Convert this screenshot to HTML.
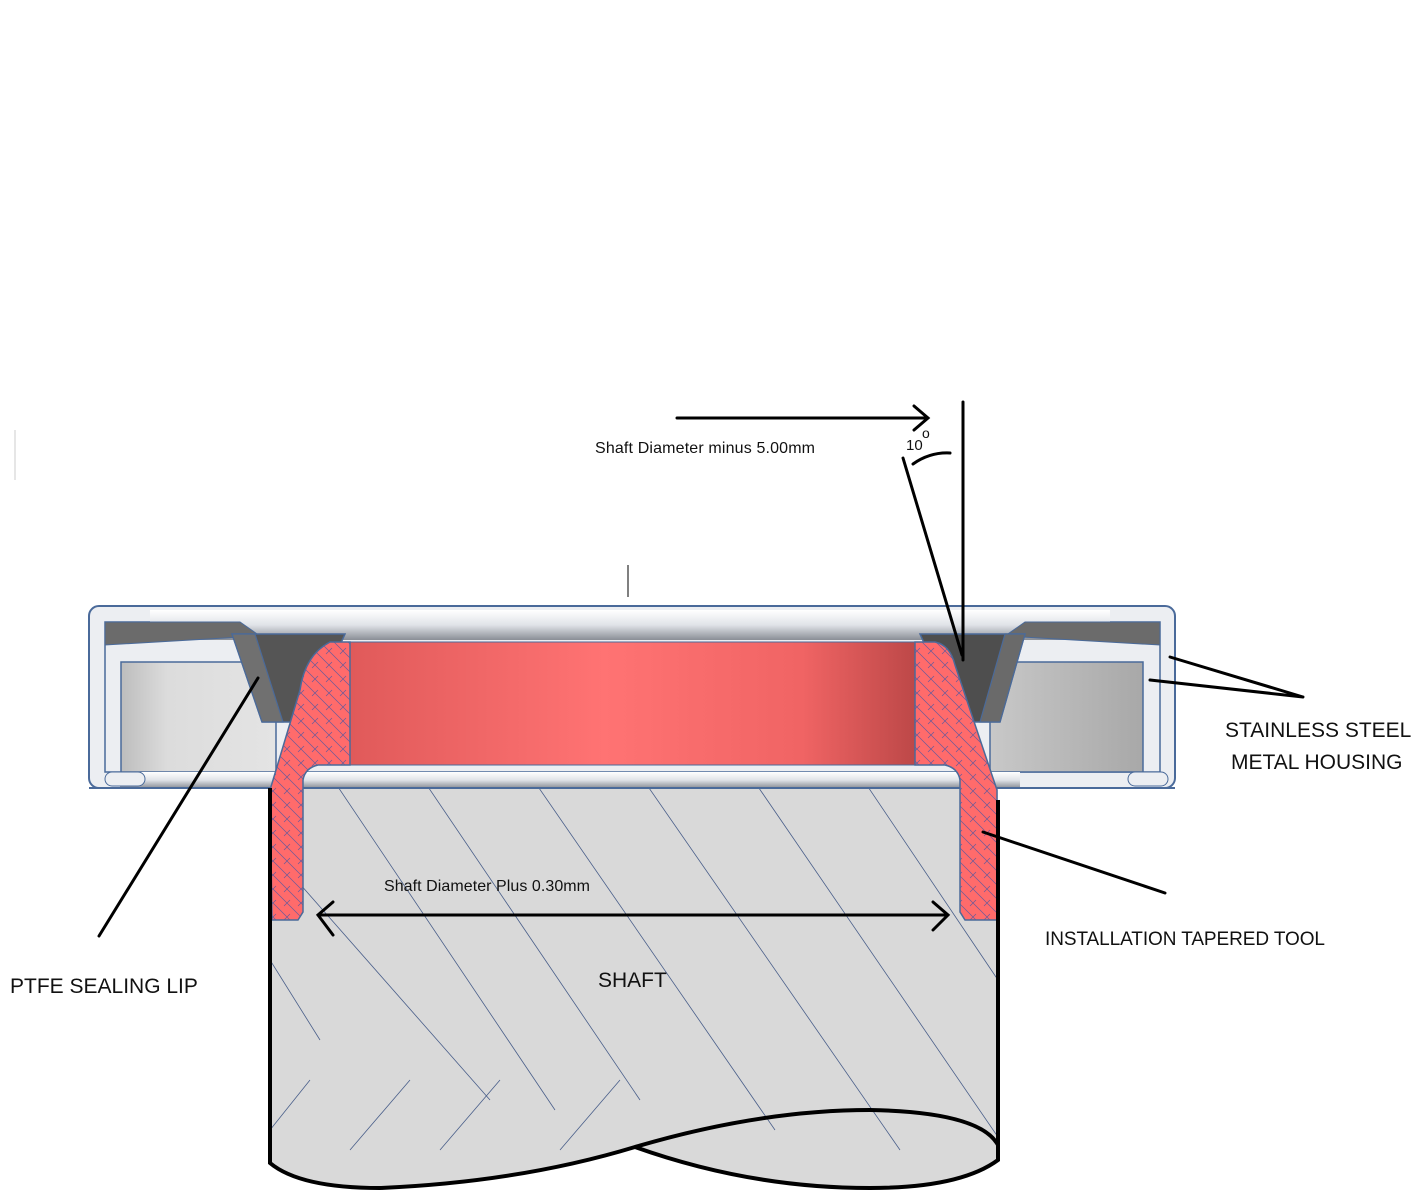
<!DOCTYPE html>
<html><head><meta charset="utf-8"><style>
html,body{margin:0;padding:0;background:#fff;}
svg{display:block;}
text{font-family:"Liberation Sans",sans-serif;fill:#111;}
</style></head><body>
<svg width="1424" height="1192" viewBox="0 0 1424 1192" xmlns="http://www.w3.org/2000/svg">
<defs>
<linearGradient id="red" x1="0" x2="1" y1="0" y2="0">
<stop offset="0" stop-color="#e05a5a"/><stop offset="0.45" stop-color="#ff7373"/><stop offset="0.8" stop-color="#f06464"/><stop offset="1" stop-color="#bd4848"/></linearGradient>
<linearGradient id="silv" x1="0" x2="0" y1="0" y2="1">
<stop offset="0" stop-color="#ffffff"/><stop offset="0.5" stop-color="#e0e3e8"/><stop offset="1" stop-color="#8a8e96"/></linearGradient>
<linearGradient id="cavL" x1="0" x2="1"><stop offset="0" stop-color="#bdbdbd"/><stop offset="0.3" stop-color="#dcdcdc"/><stop offset="1" stop-color="#e4e4e4"/></linearGradient>
<linearGradient id="cavR" x1="0" x2="1"><stop offset="0" stop-color="#c8c8c8"/><stop offset="1" stop-color="#a8a8a8"/></linearGradient>
<pattern id="hatch" width="14" height="14" patternUnits="userSpaceOnUse">
<rect width="14" height="14" fill="#ff6b6b"/>
<path d="M0 0L14 14M-7 7L7 21M7 -7L21 7" stroke="#6a5a9a" stroke-width="0.7"/>
<path d="M4 10L10 4" stroke="#6a5a9a" stroke-width="0.7"/></pattern>
<clipPath id="shc"><path d="M270 780 L270 1163 Q300 1188 380 1188 Q520 1182 635 1147 Q750 1188 870 1188 Q960 1188 998 1160 L998 780 Z"/></clipPath>
</defs>

<!-- shaft -->
<path d="M270 780 L270 1163 Q300 1188 380 1188 Q520 1182 635 1147 Q750 1188 870 1188 Q960 1188 998 1160 L998 780 Z" fill="#d9d9d9"/>
<g clip-path="url(#shc)" stroke="#4a5f8a" stroke-width="0.8" fill="none">
<path d="M330 775 L555 1110 M420 775 L640 1100 M530 775 L775 1130 M640 775 L900 1150 M750 775 L1000 1140 M860 775 L998 980 M270 850 L490 1100 M270 960 L320 1040"/>
<path d="M270 1130 L310 1080 M350 1150 L410 1080 M440 1150 L500 1080 M560 1150 L620 1080"/>
</g>
<path d="M270 788 L270 1163 Q300 1188 380 1188 Q520 1182 635 1147 Q750 1188 870 1188 Q960 1188 998 1160 L998 800" fill="none" stroke="#000" stroke-width="4"/>
<path d="M635 1147 Q760 1110 870 1110 Q980 1112 998 1145" fill="none" stroke="#000" stroke-width="4"/>

<!-- housing -->
<rect x="89" y="606" width="1086" height="182" rx="10" fill="#eceef2" stroke="#4a6a9a" stroke-width="2"/>
<rect x="105" y="622" width="1055" height="150" fill="#eceef2" stroke="#4a6a9a" stroke-width="1.5"/>
<rect x="150" y="610" width="960" height="30" fill="url(#silv)"/>
<path d="M105 622 L240 622 L260 636 L105 645 Z" fill="#6b6b6b" stroke="#4a6a9a"/>
<path d="M1160 622 L1025 622 L1005 636 L1160 645 Z" fill="#6b6b6b" stroke="#4a6a9a"/>
<rect x="121" y="662" width="155" height="110" fill="url(#cavL)" stroke="#4a6a9a" stroke-width="1.5"/>
<rect x="990" y="662" width="153" height="110" fill="url(#cavR)" stroke="#4a6a9a" stroke-width="1.5"/>
<rect x="120" y="772" width="900" height="16" fill="url(#silv)"/>
<rect x="105" y="772" width="40" height="14" rx="7" fill="#eceef2" stroke="#4a6a9a"/>
<rect x="1128" y="772" width="40" height="14" rx="7" fill="#eceef2" stroke="#4a6a9a"/>
<path d="M89 788 L1175 788" stroke="#4a6a9a" stroke-width="2"/>
<!-- dark lip regions -->
<path d="M232 634 L345 634 L305 722 L262 722 Z" fill="#555" stroke="#4a6a9a" stroke-width="1.5"/>
<path d="M232 634 L255 634 L283 722 L262 722 Z" fill="#707070" stroke="#4a6a9a" stroke-width="1.2"/>
<path d="M920 634 L1025 634 L1000 722 L960 722 Z" fill="#4e4e4e" stroke="#4a6a9a" stroke-width="1.5"/>
<path d="M1025 634 L1005 634 L980 722 L1000 722 Z" fill="#6a6a6a" stroke="#4a6a9a" stroke-width="1.2"/>

<!-- red body -->
<rect x="350" y="642" width="565" height="123" fill="url(#red)" stroke="#4a6a9a" stroke-width="1"/>
<path d="M330 642 L350 642 L350 765 L318 765 Q305 768 303 780 L303 912 L298 920 L272 920 L270 790 L300 690 Q305 655 330 642 Z" fill="url(#hatch)" stroke="#4a6a9a" stroke-width="1.5"/>
<path d="M915 642 L935 642 Q950 645 955 665 L997 790 L997 920 L965 920 L960 912 L960 780 Q958 768 945 765 L915 765 Z" fill="url(#hatch)" stroke="#4a6a9a" stroke-width="1.5"/>
<path d="M270 788 L270 925" stroke="#000" stroke-width="4"/>
<path d="M998 800 L998 925" stroke="#000" stroke-width="4"/>

<!-- annotations -->
<g stroke="#000" stroke-width="3" fill="none" stroke-linecap="round">
<path d="M677 418 L928 418 M914 406 L928 418 L914 430"/>
<path d="M963 402 L963 660"/>
<path d="M903 458 L962 655"/>
<path d="M913 464 Q930 452 950 453"/>
<path d="M318 915 L948 915 M333 902 L318 915 L333 935 M933 902 L948 915 L933 930"/>
<path d="M99 936 L258 678"/>
<path d="M1303 697 L1170 657 M1303 697 L1150 680"/>
<path d="M1165 893 L983 832"/>
</g>
<path d="M628 565 L628 597" stroke="#000" stroke-width="1"/>
<path d="M15 430 L15 480" stroke="#ccc" stroke-width="1"/>

<text x="595" y="453" font-size="16" textLength="220">Shaft Diameter minus 5.00mm</text>
<text x="906" y="450" font-size="15">10</text>
<text x="922" y="438" font-size="14">o</text>
<text x="384" y="891" font-size="16" textLength="206">Shaft Diameter Plus 0.30mm</text>
<text x="598" y="987" font-size="21">SHAFT</text>
<text x="10" y="993" font-size="21">PTFE SEALING LIP</text>
<text x="1225" y="737" font-size="21">STAINLESS STEEL</text>
<text x="1231" y="769" font-size="21">METAL HOUSING</text>
<text x="1045" y="945" font-size="19" textLength="280">INSTALLATION TAPERED TOOL</text>
</svg>
</body></html>
